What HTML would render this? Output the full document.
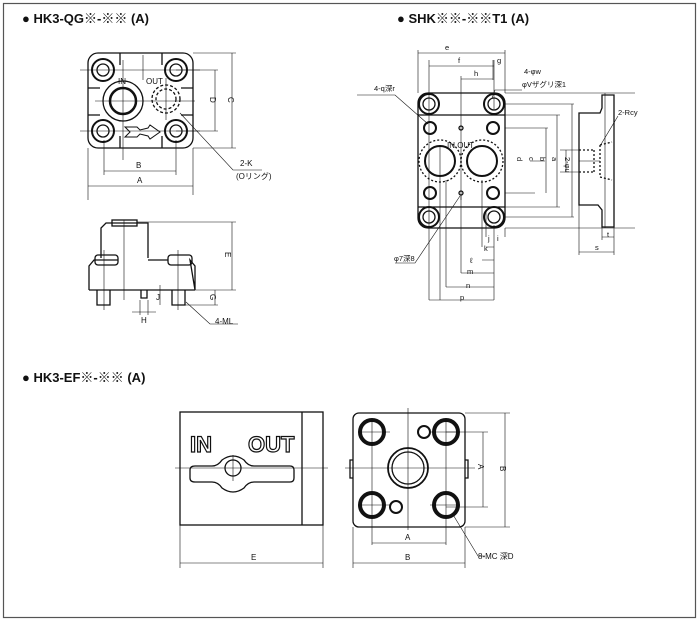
<!DOCTYPE html>
<html><head><meta charset="utf-8"><style>
body{margin:0;background:#fff}
svg{display:block}
text{font-family:"Liberation Sans","Noto Sans CJK JP",sans-serif;fill:#111}
</style></head><body>
<svg width="700" height="621" viewBox="0 0 700 621" xmlns="http://www.w3.org/2000/svg">
<rect x="3.5" y="3.5" width="692" height="614" fill="#fff" stroke="#555" stroke-width="1.2"/>
<g font-weight="bold" font-size="13">
<text x="22" y="23">● HK3-QG※-※※ (A)</text>
<text x="397" y="23">● SHK※※-※※T1 (A)</text>
<text x="22" y="382">● HK3-EF※-※※ (A)</text>
</g>

<g fill="none" stroke="#111" stroke-width="1.3">
<!-- HK3-QG top view -->
<rect x="88" y="53" width="105" height="95" rx="10"/>
<path d="M120 53 V65 M162 53 V65 M120 148 V136 M162 148 V136 M88 88 H100 M193 88 H181 M88 115 H100 M193 115 H181"/>
<circle cx="103" cy="70" r="11" stroke-width="2"/><circle cx="103" cy="70" r="6"/>
<circle cx="176" cy="70" r="11" stroke-width="2"/><circle cx="176" cy="70" r="6"/>
<circle cx="103" cy="131" r="11" stroke-width="2"/><circle cx="103" cy="131" r="6"/>
<circle cx="176" cy="131" r="11" stroke-width="2"/><circle cx="176" cy="131" r="6"/>
<circle cx="123" cy="101" r="20"/><circle cx="123" cy="101" r="13" stroke-width="2.5"/>
<circle cx="166" cy="99" r="14" stroke-dasharray="3 2"/><circle cx="166" cy="99" r="10" stroke-dasharray="3 2"/>
<path d="M125 127 L137 127 L140 130 L148 128 L150 125 L160 132 L150 139 L148 136 L140 134 L137 137 L125 137 L130 132 Z" stroke-width="1"/>
</g>
<g stroke="#111" stroke-width="0.6" fill="none">
<path d="M80 70 H200 M80 131 H200 M95 101 H195 M123 60 V160 M166 78 V120 M143 55 V80"/>
<path d="M193 53 H236 M176 70 H218 M176 131 H218 M193 148 H236 M232 53 V148 M215 70 V131"/>
<path d="M104 140 V175 M176 140 V175 M88 148 V200 M193 148 V195 M104 171 H176 M88 186 H193"/>
<path d="M180 113 L233 170 H262"/>
</g>
<g font-size="8">
<text x="118" y="84">IN</text><text x="146" y="84">OUT</text>
<text x="136" y="168">B</text><text x="137" y="183">A</text>
<text x="240" y="166">2-K</text><text x="236" y="179">(Oリング)</text>
<text x="206" y="101" transform="rotate(90 210 101)">D</text>
<text x="224" y="101" transform="rotate(90 228 101)">C</text>
</g>

<!-- side view -->
<g fill="none" stroke="#111" stroke-width="1.3">
<path d="M89 290 V266 L94 260 H118 M148 260 H168 M190 260 L195 266 V290 Z"/>
<path d="M89 290 H195"/>
<path d="M101 258 V228 L106 223 H148 V258"/>
<rect x="112" y="220" width="25" height="6"/>
<rect x="95" y="255" width="23" height="10" rx="3"/>
<rect x="168" y="255" width="24" height="10" rx="3"/>
<path d="M97 290 V305 H110 V290 M172 290 V305 H185 V290 M141 290 V298 H147 V290"/>
</g>
<g stroke="#111" stroke-width="0.6" fill="none">
<path d="M137 222 H236 M195 290 H236 M185 305 H218 M232 222 V290 M215 290 V305"/>
<path d="M104 250 V310 M178 250 V310 M124 220 V300 M140 300 V315 M148 300 V315 M132 312 H156 M160 285 V305"/>
<path d="M186 302 L210 324 H238"/>
</g>
<g font-size="8">
<text x="141" y="323">H</text><text x="156" y="300">J</text>
<text x="221" y="256" transform="rotate(90 225 256)">E</text>
<text x="206" y="298" transform="rotate(90 210 298)">G</text>
<text x="215" y="324">4-ML</text>
</g>

<!-- SHK plate -->
<g fill="none" stroke="#111" stroke-width="1.3">
<rect x="418" y="93" width="87" height="135" rx="10"/>
<path d="M418 115 H505 M418 207 H505"/>
<circle cx="429" cy="104" r="10" stroke-width="2"/><circle cx="429" cy="104" r="6"/>
<circle cx="494" cy="104" r="10" stroke-width="2"/><circle cx="494" cy="104" r="6"/>
<circle cx="429" cy="217" r="10" stroke-width="2"/><circle cx="429" cy="217" r="6"/>
<circle cx="494" cy="217" r="10" stroke-width="2"/><circle cx="494" cy="217" r="6"/>
<circle cx="430" cy="128" r="6" stroke-width="2"/><circle cx="493" cy="128" r="6" stroke-width="2"/>
<circle cx="430" cy="193" r="6" stroke-width="2"/><circle cx="493" cy="193" r="6" stroke-width="2"/>
<circle cx="461" cy="128" r="2"/><circle cx="461" cy="193" r="2"/>
<circle cx="440" cy="161" r="15" stroke-width="2"/><circle cx="440" cy="161" r="21" stroke-dasharray="2 2"/>
<circle cx="482" cy="161" r="15" stroke-width="2"/><circle cx="482" cy="161" r="21" stroke-dasharray="2 2"/>
<path d="M579 113 H600 L602 108 V95 H614 V227 H602 V210 L598 205 H579 Z"/>
<path d="M579 150 H594 M579 172 H594 M594 150 V172 M600 145 V177 M600 145 L612 142 M600 177 L612 180" stroke-dasharray="2 2"/>
</g>
<g stroke="#111" stroke-width="0.6" fill="none">
<path d="M418 93 V50 M505 93 V50 M418 53 H505 M429 60 V300 M494 60 V110 M429 66 H494 M461 76 V200 M461 79 H493 M493 60 V80"/>
<path d="M505 93 H635 M505 104 H574 M505 115 H560 M505 128 H548 M505 193 H535 M505 207 H560 M505 217 H574 M505 228 H635"/>
<path d="M605 93 V228 M572 104 V217 M557 115 V207 M546 128 V193 M530 161 H545 M579 161 H600"/>
<path d="M440 145 V300 M446 180 V287 M461 195 V273 M482 180 V247 M486 210 V237 M494 225 V237 M505 228 V237 M429 300 H494 M446 287 H494 M461 273 H494 M482 260 H494 M486 247 H494 M494 232 V300"/>
<path d="M579 205 V255 M614 227 V255 M579 252 H614 M602 227 V240 M602 237 H614 M566 150 V172 M560 150 H579 M560 172 H579"/>
<path d="M357 95 H395 L428 124 M522 90 H495 L492 98 M618 116 L600 146 M460 196 L415 263 H395"/>
</g>
<g font-size="7.5">
<text x="445" y="50">e</text><text x="458" y="63">f</text><text x="497" y="63">g</text><text x="474" y="76">h</text>
<text x="374" y="91">4-q深r</text><text x="524" y="74">4-φw</text><text x="522" y="87">φVザグリ深1</text>
<text x="447" y="148" font-size="8">IN OUT</text><text x="618" y="115">2-Rcy</text>
<text x="497" y="241">i</text><text x="488" y="241">j</text><text x="484" y="251">k</text><text x="470" y="263">ℓ</text>
<text x="467" y="274">m</text><text x="466" y="288">n</text><text x="460" y="300">p</text>
<text x="394" y="261">φ7深8</text><text x="595" y="250">s</text><text x="607" y="237">t</text>
<text x="513" y="161" transform="rotate(90 517 161)">d</text>
<text x="525" y="161" transform="rotate(90 529 161)">c</text>
<text x="536" y="161" transform="rotate(90 540 161)">b</text>
<text x="548" y="161" transform="rotate(90 552 161)">a</text>
<text x="561" y="161" transform="rotate(90 565 161)">2-φu</text>
</g>

<!-- HK3-EF -->
<g fill="none" stroke="#111" stroke-width="1.3">
<rect x="180" y="412" width="143" height="113"/>
<path d="M302 412 V525"/>
<path d="M195 466 Q190 466 190 470 V478 Q190 482 195 482 H212 Q218 482 222 488 Q233 496 244 488 Q248 482 254 482 H290 Q294 482 294 478 V470 Q294 466 290 466 H254 Q248 466 244 460 Q233 452 222 460 Q218 466 212 466 Z"/>
<circle cx="233" cy="468" r="8"/>
<rect x="353" y="413" width="112" height="114" rx="6"/>
<circle cx="372" cy="432" r="12" stroke-width="4"/><circle cx="446" cy="432" r="12" stroke-width="4"/>
<circle cx="372" cy="505" r="12" stroke-width="4"/><circle cx="446" cy="505" r="12" stroke-width="4"/>
<circle cx="424" cy="432" r="6" stroke-width="2"/><circle cx="396" cy="507" r="6" stroke-width="2"/>
<circle cx="408" cy="468" r="20" stroke-width="1.8"/><circle cx="408" cy="468" r="16"/>
<path d="M353 460 H350 V478 H353 M465 460 H468 V478 H465"/>
</g>
<g font-size="22" font-weight="bold" fill="#fff" stroke="#111" stroke-width="1.2" style="paint-order:normal">
<text x="190" y="452" style="fill:#fff">IN</text><text x="248" y="452" style="fill:#fff">OUT</text>
</g>
<g stroke="#111" stroke-width="0.6" fill="none">
<path d="M175 468 H328 M233 455 V481 M345 468 H475 M408 408 V530 M360 432 H390 M430 432 H460 M360 505 H390 M430 505 H460 M372 420 V545 M446 420 V545"/>
<path d="M180 525 V568 M323 525 V568 M180 563 H323 M353 527 V568 M465 527 V568 M353 563 H465 M372 543 H446"/>
<path d="M446 432 H488 M446 507 H488 M483 432 V507 M465 413 H510 M465 527 H510 M505 413 V527 M452 513 L478 556 H485"/>
</g>
<g font-size="8">
<text x="251" y="560">E</text><text x="405" y="540">A</text><text x="405" y="560">B</text>
<text x="478" y="559">8-MC 深D</text>
<text x="474" y="468" transform="rotate(90 478 468)">A</text>
<text x="496" y="470" transform="rotate(90 500 470)">B</text>
</g>
</svg>
</body></html>
